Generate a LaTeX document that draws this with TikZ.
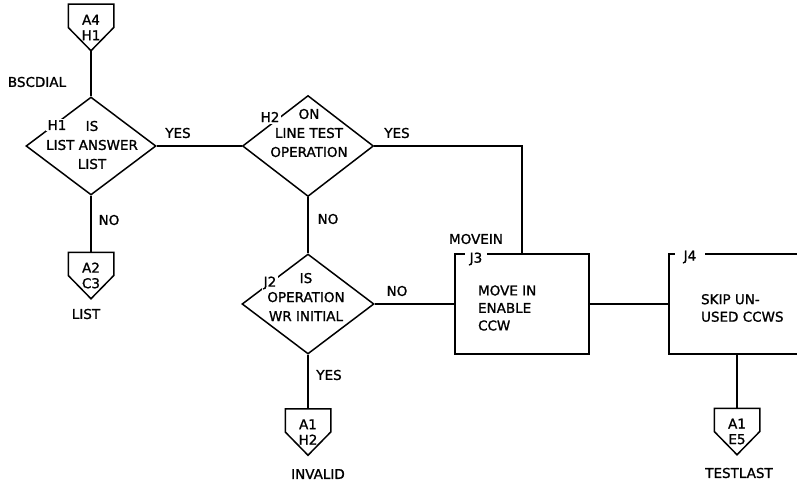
\documentclass[tikz,border=0pt]{standalone}
\usepackage{fontspec}
\setmainfont{DejaVu Sans}[FakeBold=1.2]
\usetikzlibrary{shapes.geometric}

\begin{document}
\begin{tikzpicture}[x=1pt,y=-1pt,line width=1.5pt,
  every node/.style={font=\fontsize{13.5}{19}\selectfont},
  decision/.style={draw,diamond,inner sep=0pt},
  process/.style={draw,rectangle,minimum height=100pt},
  question/.style={align=center},
  action/.style={anchor=west,align=left,font=\fontsize{13.5}{17.5}\selectfont},
  offpage/.style={minimum width=44pt,minimum height=45pt,inner sep=0pt,
    align=center,font=\fontsize{13.5}{15.5}\selectfont},
  tag/.style={fill=white,inner sep=1.5pt},
  boxtag/.style={fill=white,inner xsep=5pt,inner ysep=2pt}]
  \useasboundingbox (0,0) rectangle (797,484);
  \clip (0,0) rectangle (797,484);

  % decisions
  \node[decision,minimum width=130pt,minimum height=98pt] (h1) at (91,146) {};
  \node[question] (h1q) at (92,145) {IS\\LIST ANSWER\\LIST};
  \node[tag] (h1t) at (57,125) {H1};
  \node[decision,minimum width=131pt,minimum height=101pt] (h2) at (308,146) {};
  \node[question] (h2q) at (309,133) {ON\\LINE TEST\\OPERATION};
  \node[tag] (h2t) at (270,117) {H2};
  \node[decision,minimum width=132pt,minimum height=100pt] (j2) at (308,304) {};
  \node[question] (j2q) at (306,297) {IS\\OPERATION\\WR INITIAL};
  \node[tag] (j2t) at (270,283) {J2};

  % process boxes
  \node[process,minimum width=134pt] (j3) at (522,304) {};
  \node[action] (j3a) at (474,308) {MOVE IN\\ENABLE\\CCW};
  \node[boxtag] (j3t) at (476,259) {J3};
  \node[process,minimum width=136pt] (j4) at (737,304) {};
  \node[action] (j4a) at (697,308) {SKIP UN-\\USED CCWS};
  \node[boxtag,inner xsep=9pt] (j4t) at (690,257) {J4};

  % off-page connectors
  \foreach \name/\xpos/\ypos/\ref in {a4h1/91/27.5/{A4\\H1},a2c3/91/275.5/{A2\\C3},
      a1h2/308/432/{A1\\H2},a1e5/737/431.5/{A1\\E5}} {
    \node[offpage] (\name) at (\xpos,\ypos) {\ref};
    \draw (\name.north west) -- (\name.north east) -- (\name.east)
      -- (\name.south) -- (\name.west) -- cycle;
  }

  % entry names
  \node (bscdial) at (37,82) {BSCDIAL};
  \node (movein) at (476,239) {MOVEIN};
  \node (list) at (86,314) {LIST};
  \node (invalid) at (318,474) {INVALID};
  \node (testlast) at (739,473) {TESTLAST};

  % flow lines
  \draw (a4h1.south) -- (h1.north);
  \draw (h1.south) -- (a2c3.north);
  \draw (h1.east) -- (h2.west);
  \draw (h2.east) -| (j3.north);
  \draw (h2.south) -- (j2.north);
  \draw (j2.east) -- (j3.west);
  \draw (j2.south) -- (a1h2.north);
  \draw (j3.east) -- (j4.west);
  \draw (j4.south) -- (a1e5.north);
  \node[tag] at (h1t) {H1};
  \node[tag] at (h2t) {H2};
  \node[tag] at (j2t) {J2};
  \node[boxtag] at (j3t) {J3};
  \node[boxtag,inner xsep=9pt] at (j4t) {J4};

  % branch labels
  \node (h1yes) at (178,133) {YES};
  \node (h1no) at (109,220) {NO};
  \node (h2yes) at (397,133) {YES};
  \node (h2no) at (328,219) {NO};
  \node (j2no) at (397,291) {NO};
  \node (j2yes) at (329,375) {YES};
\end{tikzpicture}
\end{document}
